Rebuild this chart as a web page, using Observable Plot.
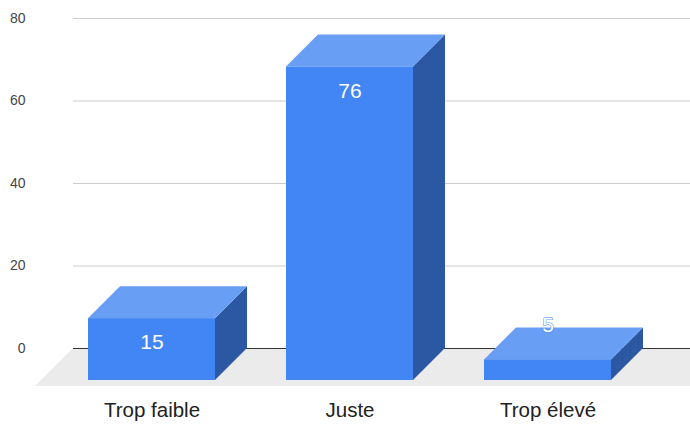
<!DOCTYPE html>
<html><head><meta charset="utf-8">
<script src="https://cdn.jsdelivr.net/npm/d3@7"></script>
<script src="https://cdn.jsdelivr.net/npm/@observablehq/plot@0.6"></script>
<style>body{margin:0;background:#fff;font-family:Arial,"Liberation Sans",sans-serif}</style>
</head><body><div id="chart"></div>
<script>
const categories = ["Trop faible", "Juste", "Trop élevé"];
const values = [15, 76, 5];
const yTicks = [0, 20, 40, 60, 80];

const data = categories.map((c, i) => ({category: c, value: values[i]}));
const DEPTH = 32;       // bar depth in pixels (3D offset)
const FLOOR_DEPTH = 38; // floor depth in pixels
const colors = {front: "#4285f4", top: "#699ef5", side: "#2c58a3", floor: "#ebebeb"};

function floorMark(index, scales, vals, dims) {
  const y0 = scales.y(0);
  const x0 = dims.marginLeft;
  const x1 = dims.width;
  const d = FLOOR_DEPTH;
  const poly = d3.create("svg:polygon")
    .attr("points", [[x0, y0], [x1 + d, y0], [x1, y0 + d], [x0 - d, y0 + d]].map(p => p.join(",")).join(" "))
    .attr("fill", colors.floor);
  return poly.node();
}

function facesMark(index, scales, vals, dims) {
  const g = d3.create("svg:g");
  const bw = scales.x.bandwidth();
  const d = DEPTH;
  for (const row of data) {
    const x0 = scales.x(row.category), x1 = x0 + bw;
    const yv = scales.y(row.value), y0 = scales.y(0);
    // side face
    g.append("polygon")
      .attr("points", [[x1 - d, yv + d], [x1, yv], [x1, y0], [x1 - d, y0 + d]].map(p => p.join(",")).join(" "))
      .attr("fill", colors.side);
    // top face
    g.append("polygon")
      .attr("points", [[x0 - d, yv + d], [x1 - d, yv + d], [x1, yv], [x0, yv]].map(p => p.join(",")).join(" "))
      .attr("fill", colors.top);
  }
  return g.node();
}

const chart = Plot.plot({
  width: 690,
  height: 425,
  marginLeft: 73,
  marginRight: 0,
  marginTop: 18,
  marginBottom: 77,
  style: {fontFamily: "Arial, 'Liberation Sans', sans-serif", background: "#fff"},
  x: {type: "band", domain: categories, paddingInner: 0.357, paddingOuter: 0.231, axis: null},
  y: {domain: [0, 80], axis: null},
  marks: [
    floorMark,
    Plot.gridY(yTicks, {stroke: "#cccccc", strokeOpacity: 1}),
    Plot.ruleY([0], {stroke: "#333333", strokeWidth: 1}),
    facesMark,
    Plot.barY(data, {x: "category", y: "value", fill: colors.front, dx: -DEPTH, dy: DEPTH}),
    Plot.text(data.filter(d => d.value >= 10), {x: "category", y: "value", text: d => String(d.value), dx: -DEPTH, dy: 56, fill: "#ffffff", fontSize: 21}),
    Plot.text(data.filter(d => d.value < 10), {x: "category", y: "value", text: d => String(d.value), dx: -DEPTH, dy: -3, fill: "#ffffff", stroke: colors.front, strokeWidth: 1, fontSize: 21}),
    Plot.axisY(yTicks, {tickSize: 0, tickPadding: 48, fontSize: 14, fill: "#444444", label: null}),
    Plot.axisX({tickSize: 0, tickPadding: 54, dx: -DEPTH, fontSize: 20.5, fill: "#222222", label: null})
  ]
});
document.getElementById("chart").appendChild(chart);
</script>
</body></html>
